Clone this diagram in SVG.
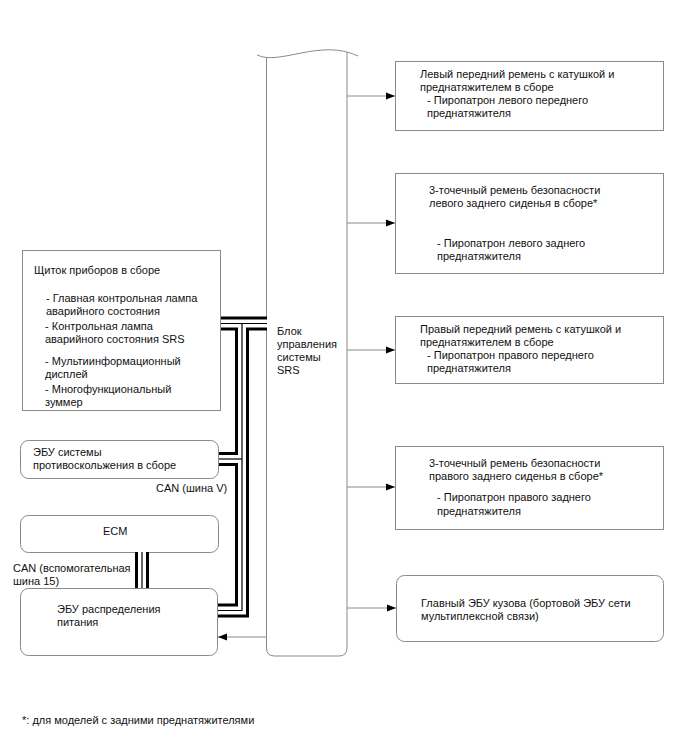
<svg xmlns="http://www.w3.org/2000/svg" xmlns:xlink="http://www.w3.org/1999/xlink" width="688" height="755" viewBox="0 0 688 755">
<style>
text{font-family:"Liberation Sans",Arial,sans-serif;font-size:11px;fill:#111}
.box{fill:#fff;stroke:#8a8a8a;stroke-width:1}
.ln{fill:none;stroke:#8a8a8a;stroke-width:1}
.bk{fill:none;stroke:#000;stroke-width:14;stroke-linejoin:miter}
.wh{fill:none;stroke:#fff;stroke-width:8;stroke-linejoin:miter}
.th{fill:none;stroke:#000;stroke-width:1.2;stroke-linejoin:miter}
</style>
<defs>
<marker id="ah" markerWidth="10" markerHeight="8" refX="9" refY="4" orient="auto" markerUnits="userSpaceOnUse">
<path d="M0,0.5 L9,4 L0,7.5 Z" fill="#000"/>
</marker>
<path id="b1" d="M221,323.5 H267"/>
<path id="b2" d="M242,323.5 V610.5 H218"/>
<path id="b3" d="M242,459 H219"/>
<path id="b4" d="M142,552 V588"/>
</defs>

<g id="srs">
<path class="ln" d="M257,55 C280,66 320,38 358,56"/>
<path class="ln" d="M266.5,57.5 V648 Q266.5,656 274.5,656 H339 Q347,656 347,648 V52"/>
<text x="277" y="335">Блок</text>
<text x="277" y="348">управления</text>
<text x="277" y="361">системы</text>
<text x="277" y="374">SRS</text>
</g>

<g id="r1">
<rect class="box" x="395.5" y="61.5" width="268" height="69"/>
<text x="420" y="78">Левый передний ремень с катушкой и</text>
<text x="420" y="91">преднатяжителем в сборе</text>
<text x="427" y="104">- Пиропатрон левого переднего</text>
<text x="427" y="117">преднатяжителя</text>
</g>
<g id="r2">
<rect class="box" x="395.5" y="173.5" width="268" height="100"/>
<text x="429" y="194">3-точечный ремень безопасности</text>
<text x="429" y="207">левого заднего сиденья в сборе*</text>
<text x="437" y="247">- Пиропатрон левого заднего</text>
<text x="437" y="260">преднатяжителя</text>
</g>
<g id="r3">
<rect class="box" x="395.5" y="316.5" width="268" height="67"/>
<text x="420" y="333">Правый передний ремень с катушкой и</text>
<text x="420" y="346">преднатяжителем в сборе</text>
<text x="427" y="359">- Пиропатрон правого переднего</text>
<text x="427" y="372">преднатяжителя</text>
</g>
<g id="r4">
<rect class="box" x="395.5" y="446.5" width="268" height="83"/>
<text x="429" y="467">3-точечный ремень безопасности</text>
<text x="429" y="480">правого заднего сиденья в сборе*</text>
<text x="437" y="501">- Пиропатрон правого заднего</text>
<text x="437" y="515">преднатяжителя</text>
</g>
<g id="r5">
<rect class="box" x="396.5" y="575.5" width="267" height="66" rx="8"/>
<text x="421" y="607">Главный ЭБУ кузова (бортовой ЭБУ сети</text>
<text x="421" y="620">мультиплексной связи)</text>
</g>

<g id="meter">
<rect class="box" x="22.5" y="250.5" width="198" height="160"/>
<text x="34" y="274">Щиток приборов в сборе</text>
<text x="46" y="302">- Главная контрольная лампа</text>
<text x="46" y="315">аварийного состояния</text>
<text x="45" y="330">- Контрольная лампа</text>
<text x="45" y="343">аварийного состояния SRS</text>
<text x="45" y="365">- Мультиинформационный</text>
<text x="45" y="378">дисплей</text>
<text x="45" y="393">- Многофункциональный</text>
<text x="45" y="406">зуммер</text>
</g>
<g id="skid">
<rect class="box" x="20.5" y="440.5" width="198" height="38" rx="8"/>
<text x="33" y="456">ЭБУ системы</text>
<text x="33" y="469">противоскольжения в сборе</text>
</g>
<g id="ecm">
<rect class="box" x="20.5" y="515.5" width="198" height="37" rx="8"/>
<text x="103" y="535">ECM</text>
</g>
<g id="pdu">
<rect class="box" x="20.5" y="588.5" width="197" height="67" rx="8"/>
<text x="57" y="613">ЭБУ распределения</text>
<text x="57" y="626">питания</text>
</g>

<g id="connectors">
<line class="ln" x1="347" y1="96" x2="395" y2="96" marker-end="url(#ah)"/>
<line class="ln" x1="347" y1="223" x2="395" y2="223" marker-end="url(#ah)"/>
<line class="ln" x1="347" y1="350" x2="395" y2="350" marker-end="url(#ah)"/>
<line class="ln" x1="347" y1="487" x2="395" y2="487" marker-end="url(#ah)"/>
<line class="ln" x1="347" y1="608" x2="396" y2="608" marker-end="url(#ah)"/>
<line class="ln" x1="266.5" y1="637" x2="218" y2="637" marker-end="url(#ah)"/>
<use href="#b1" xlink:href="#b1" class="bk"/>
<use href="#b2" xlink:href="#b2" class="bk"/>
<use href="#b3" xlink:href="#b3" class="bk"/>
<use href="#b4" xlink:href="#b4" class="bk"/>
<use href="#b1" xlink:href="#b1" class="wh"/>
<use href="#b2" xlink:href="#b2" class="wh"/>
<use href="#b3" xlink:href="#b3" class="wh"/>
<use href="#b4" xlink:href="#b4" class="wh"/>
<use href="#b1" xlink:href="#b1" class="th"/>
<use href="#b2" xlink:href="#b2" class="th"/>
<use href="#b3" xlink:href="#b3" class="th"/>
<use href="#b4" xlink:href="#b4" class="th"/>
<text x="156" y="492">CAN (шина V)</text>
<text x="13" y="572">CAN (вспомогательная</text>
<text x="13" y="585">шина 15)</text>
</g>

<text x="22" y="724">*: для моделей с задними преднатяжителями</text>
</svg>
